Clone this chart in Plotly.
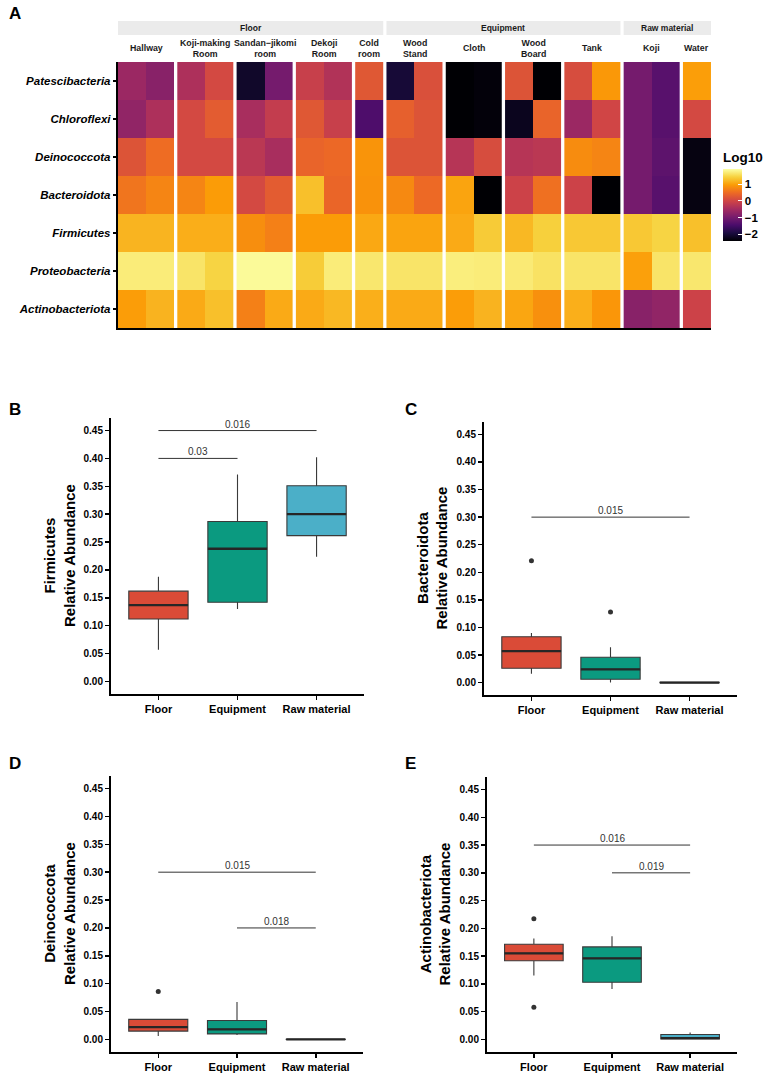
import plotly.graph_objects as go

# ---------------- data: heatmap (log10 relative abundance) ----------------
phyla = ["Patescibacteria", "Chloroflexi", "Deinococcota", "Bacteroidota",
         "Firmicutes", "Proteobacteria", "Actinobacteriota"]
site_groups = ["Floor", "Equipment", "Raw material"]
site_labels = ["Hallway", "Koji-making<br>Room", "Sandan\u2212jikomi<br>room", "Dekoji<br>Room",
               "Cold<br>room", "Wood<br>Stand", "Cloth", "Wood<br>Board", "Tank", "Koji", "Water"]
site_group_of = ["Floor"] * 5 + ["Equipment"] * 4 + ["Raw material"] * 2
site_ncols = [2, 2, 2, 2, 1, 2, 2, 2, 2, 2, 1]

log_patescibacteria = [-0.6, -0.8, -0.4, 0.05, -2.1, -1.0, -0.1, -0.35, 0.25, -2.0,
                       0.15, -2.4, -2.35, 0.2, -2.4, 0.1, 0.92, -1.0, -1.3, 0.97]
log_chloroflexi = [-0.7, -0.4, 0.05, 0.3, -0.45, -0.15, 0.25, -0.1, -1.4, 0.35,
                   0.2, -2.4, -2.35, -2.2, 0.4, -0.6, 0.0, -1.0, -1.3, 0.05]
log_deinococcota = [0.2, 0.5, 0.05, 0.05, -0.25, -0.45, 0.4, 0.45, 0.88, 0.2,
                    0.2, -0.3, 0.1, -0.3, -0.25, 0.8, 0.73, -1.0, -1.25, -2.3]
log_bacteroidota = [0.58, 0.73, 0.73, 0.95, 0.05, 0.3, 1.27, 0.42, 0.86, 0.77,
                    0.47, 1.02, -2.4, -0.05, 0.53, -0.05, -2.4, -1.0, -1.3, -2.3]
log_firmicutes = [1.17, 1.17, 1.11, 1.11, 0.82, 0.69, 0.95, 0.95, 1.06, 1.02,
                  1.02, 1.08, 1.37, 1.2, 1.41, 1.34, 1.34, 1.34, 1.45, 1.27]
log_proteobacteria = [1.7, 1.7, 1.62, 1.45, 1.85, 1.85, 1.38, 1.7, 1.65, 1.62,
                      1.62, 1.72, 1.7, 1.68, 1.6, 1.62, 1.62, 0.99, 1.62, 1.65]
log_actinobacteriota = [0.96, 1.16, 1.08, 1.27, 0.69, 1.08, 1.08, 1.2, 1.12, 1.08,
                        1.08, 0.96, 1.16, 1.04, 0.84, 1.12, 0.9, -0.8, -0.7, -0.05]

heat_rows = [log_patescibacteria, log_chloroflexi, log_deinococcota, log_bacteroidota,
             log_firmicutes, log_proteobacteria, log_actinobacteriota]

# ---------------- data: box plots (relative abundance) ----------------
box_groups = ["Floor", "Equipment", "Raw material"]

firmicutes_lower = [0.057, 0.130, 0.2235]
firmicutes_q1 = [0.112, 0.142, 0.2615]
firmicutes_median = [0.137, 0.238, 0.300]
firmicutes_q3 = [0.162, 0.287, 0.351]
firmicutes_upper = [0.188, 0.371, 0.402]
firmicutes_outliers = []
firmicutes_sig = [(0, 2, 0.45, "0.016"), (0, 1, 0.40, "0.03")]

bacteroidota_lower = [0.016, 0.0, 0.0]
bacteroidota_q1 = [0.026, 0.006, 0.0]
bacteroidota_median = [0.057, 0.024, 0.0]
bacteroidota_q3 = [0.083, 0.046, 0.0004]
bacteroidota_upper = [0.090, 0.064, 0.0008]
bacteroidota_outliers = [(0, 0.221), (1, 0.128)]
bacteroidota_sig = [(0, 2, 0.30, "0.015")]

deinococcota_lower = [0.006, 0.008, 0.0]
deinococcota_q1 = [0.015, 0.010, 0.0]
deinococcota_median = [0.022, 0.018, 0.0]
deinococcota_q3 = [0.036, 0.034, 0.0004]
deinococcota_upper = [0.036, 0.067, 0.0008]
deinococcota_outliers = [(0, 0.086)]
deinococcota_sig = [(0, 2, 0.30, "0.015"), (1, 2, 0.20, "0.018")]

actinobacteriota_lower = [0.115, 0.091, 0.0]
actinobacteriota_q1 = [0.1417, 0.103, 0.001]
actinobacteriota_median = [0.155, 0.146, 0.0025]
actinobacteriota_q3 = [0.1715, 0.1667, 0.009]
actinobacteriota_upper = [0.182, 0.186, 0.0125]
actinobacteriota_outliers = [(0, 0.2175), (0, 0.058)]
actinobacteriota_sig = [(0, 2, 0.35, "0.016"), (1, 2, 0.30, "0.019")]

y_ticks = [0.00, 0.05, 0.10, 0.15, 0.20, 0.25, 0.30, 0.35, 0.40, 0.45]
box_colors = ["#DA4B37", "#0B9A80", "#4BAFC8"]

# ---------------- layout helpers ----------------
W, H = 767, 1076
FONT = "Liberation Sans, Arial, Helvetica, sans-serif"


def fx(p):
    return p / W


def fy(p):
    return 1 - p / H


fig = go.Figure()
annotations = []
shapes = []

# ---------------- heatmap ----------------
GAP = 0.115
starts = []
pos = 0.0
for n in site_ncols:
    starts.append(pos)
    pos += n + GAP
total_w = pos - GAP

col = 0
for k, n in enumerate(site_ncols):
    x_edges = [starts[k] + i for i in range(n + 1)]
    z = [[row[col + i] for i in range(n)] for row in heat_rows]
    fig.add_trace(go.Heatmap(
        x=x_edges, y=phyla, z=z, coloraxis="coloraxis",
        xaxis="x", yaxis="y", hoverinfo="skip"))
    col += n

# facet strips
for g in site_groups:
    idx = [k for k, s in enumerate(site_group_of) if s == g]
    x0 = starts[idx[0]]
    x1 = starts[idx[-1]] + site_ncols[idx[-1]]
    shapes.append(dict(type="rect", xref="x", yref="paper", x0=x0, x1=x1,
                       y0=fy(35), y1=fy(21), fillcolor="#EBEBEB", line=dict(width=0),
                       layer="below"))
    annotations.append(dict(xref="x", yref="paper", x=(x0 + x1) / 2, y=fy(28),
                            text="<b>%s</b>" % g, showarrow=False,
                            font=dict(size=8.5, color="#1a1a1a", family=FONT),
                            xanchor="center", yanchor="middle"))
for k, lab in enumerate(site_labels):
    annotations.append(dict(xref="x", yref="paper", x=starts[k] + site_ncols[k] / 2,
                            y=fy(48), text="<b>%s</b>" % lab, showarrow=False,
                            font=dict(size=8.8, color="#1a1a1a", family=FONT),
                            xanchor="center", yanchor="middle"))

annotations.append(dict(xref="paper", yref="paper", x=fx(7), y=fy(13), text="<b>A</b>",
                        showarrow=False, xanchor="left", yanchor="middle",
                        font=dict(size=17, color="black", family=FONT)))

layout_axes = dict(
    xaxis=dict(domain=[fx(118), fx(711)], range=[0, total_w], showgrid=False,
               zeroline=False, showticklabels=False, ticks="", showline=True,
               linecolor="black", linewidth=2.2, anchor="y"),
    yaxis=dict(domain=[fy(328), fy(62)], type="category", autorange="reversed",
               showgrid=False, zeroline=False, showline=True, linecolor="black",
               linewidth=2.2, ticks="outside", ticklen=3, tickwidth=1.5,
               tickcolor="black", anchor="x",
               tickfont=dict(size=11.5, color="black", family=FONT,
                             weight="bold", style="italic")),
)

# ---------------- box plots ----------------
panels = [
    ("Firmicutes", "B", (111, 364), (418, 694), (7, 409),
     firmicutes_lower, firmicutes_q1, firmicutes_median, firmicutes_q3,
     firmicutes_upper, firmicutes_outliers, firmicutes_sig),
    ("Bacteroidota", "C", (484, 737), (422, 695), (403, 409),
     bacteroidota_lower, bacteroidota_q1, bacteroidota_median, bacteroidota_q3,
     bacteroidota_upper, bacteroidota_outliers, bacteroidota_sig),
    ("Deinococcota", "D", (111, 363), (776, 1052), (7, 763),
     deinococcota_lower, deinococcota_q1, deinococcota_median, deinococcota_q3,
     deinococcota_upper, deinococcota_outliers, deinococcota_sig),
    ("Actinobacteriota", "E", (487, 737), (777, 1052), (403, 763),
     actinobacteriota_lower, actinobacteriota_q1, actinobacteriota_median,
     actinobacteriota_q3, actinobacteriota_upper, actinobacteriota_outliers,
     actinobacteriota_sig),
]

BOXW = 0.75
for p, (name, letter, xd, yd, lpos, lo, q1, med, q3, up, outl, sig) in enumerate(panels):
    ax = str(p + 2)
    xa, ya = "x" + ax, "y" + ax
    for i, g in enumerate(box_groups):
        fig.add_trace(go.Box(
            x=[i], q1=[q1[i]], median=[med[i]], q3=[q3[i]],
            lowerfence=[lo[i]], upperfence=[up[i]], width=BOXW,
            fillcolor=box_colors[i], line=dict(color="#3a3a3a", width=1.1),
            whiskerwidth=0, boxpoints=False, xaxis=xa, yaxis=ya,
            showlegend=False, hoverinfo="skip"))
        fig.add_trace(go.Scatter(
            x=[i - BOXW / 2, i + BOXW / 2], y=[med[i], med[i]], mode="lines",
            line=dict(color="#262626", width=2.3), xaxis=xa, yaxis=ya,
            showlegend=False, hoverinfo="skip"))
    if outl:
        fig.add_trace(go.Scatter(
            x=[o[0] for o in outl], y=[o[1] for o in outl], mode="markers",
            marker=dict(color="#333333", size=5), xaxis=xa, yaxis=ya,
            showlegend=False, hoverinfo="skip"))
    for (a, b, yv, txt) in sig:
        fig.add_trace(go.Scatter(
            x=[a, b], y=[yv, yv], mode="lines", line=dict(color="#333333", width=1),
            xaxis=xa, yaxis=ya, showlegend=False, hoverinfo="skip"))
        annotations.append(dict(xref=xa, yref=ya, x=(a + b) / 2, y=yv, text=txt,
                                showarrow=False, xanchor="center", yanchor="bottom",
                                yshift=-1,
                                font=dict(size=10, color="#333333", family=FONT)))
    layout_axes["xaxis" + ax] = dict(
        domain=[fx(xd[0]), fx(xd[1])], range=[-0.6, 2.6], anchor=ya,
        tickvals=[0, 1, 2], ticktext=box_groups, showgrid=False, zeroline=False,
        showline=True, linecolor="black", linewidth=2, ticks="outside",
        ticklen=4, tickwidth=1.5, tickcolor="black",
        tickfont=dict(size=11, color="black", family=FONT, weight="bold"))
    layout_axes["yaxis" + ax] = dict(
        domain=[fy(yd[1]), fy(yd[0])], range=[-0.0225, 0.4725], anchor=xa,
        tickvals=y_ticks, ticktext=["%.2f" % v for v in y_ticks], showgrid=False,
        zeroline=False, showline=True, linecolor="black", linewidth=2,
        ticks="outside", ticklen=4, tickwidth=1.5, tickcolor="black",
        tickfont=dict(size=10, color="black", family=FONT, weight="bold"))
    annotations.append(dict(
        xref="paper", yref="paper", x=fx(xd[0] - 52), y=fy((yd[0] + yd[1]) / 2),
        text="<b>%s<br>Relative Abundance</b>" % name, textangle=-90,
        showarrow=False, xanchor="center", yanchor="middle",
        font=dict(size=15, color="black", family=FONT)))
    annotations.append(dict(
        xref="paper", yref="paper", x=fx(lpos[0]), y=fy(lpos[1]),
        text="<b>%s</b>" % letter, showarrow=False, xanchor="left", yanchor="middle",
        font=dict(size=17, color="black", family=FONT)))

fig.update_layout(
    width=W, height=H, margin=dict(l=0, r=0, t=0, b=0),
    paper_bgcolor="white", plot_bgcolor="white",
    font=dict(family=FONT, color="black"),
    showlegend=False,
    coloraxis=dict(
        colorscale="Inferno", cmin=-2.4, cmax=1.9,
        colorbar=dict(
            x=fx(723), xanchor="left", xpad=0, y=fy(241), yanchor="bottom",
            len=92, lenmode="pixels", thickness=19, ypad=0, outlinewidth=0,
            tickvals=[-2, -1, 0, 1], ticktext=["\u22122", "\u22121", "0", "1"],
            ticks="inside", ticklen=4, tickcolor="white", tickwidth=1,
            tickfont=dict(size=11.5, color="black", family=FONT, weight="bold"),
            title=dict(text="<b>Log10</b>", side="top",
                       font=dict(size=13.5, color="black", family=FONT)))),
    annotations=annotations, shapes=shapes,
    **layout_axes)

fig.write_html(
    "out.html",
    config={"displayModeBar": False, "staticPlot": True},
    post_script="document.body.style.margin='0';document.body.style.padding='0';"
                "document.body.style.overflow='hidden';")
